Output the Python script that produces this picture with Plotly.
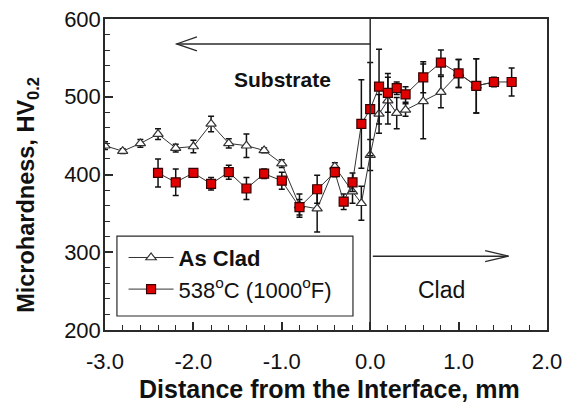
import plotly.graph_objects as go

# As Clad (triangles)
asclad_x = [-3.0, -2.8, -2.6, -2.4, -2.2, -2.0, -1.8, -1.6, -1.4, -1.2, -1.0, -0.8, -0.6, -0.4,
            -0.2, -0.1, 0.0, 0.1, 0.2, 0.3, 0.4, 0.6, 0.8, 1.0, 1.2, 1.4]
asclad_y = [437, 430, 440, 452, 434, 436, 465, 440, 437, 431, 414, 360, 356, 410,
            378, 363, 425, 478, 495, 479, 483, 494, 506, 530, 514, 519]
asclad_err = [5, 3, 5, 7, 5, 8, 10, 6, 15, 3, 5, 15, 30, 5,
              15, 22, 20, 25, 30, 20, 8, 48, 20, 18, 35, 6]

# 538 C (1000 F) (red squares)
ht_x = [-2.4, -2.2, -2.0, -1.8, -1.6, -1.4, -1.2, -1.0, -0.8, -0.6, -0.4, -0.3, -0.2,
        -0.1, 0.0, 0.1, 0.2, 0.3, 0.4, 0.6, 0.8, 1.0, 1.2, 1.4, 1.6]
ht_y = [402, 390, 402, 388, 403, 382, 401, 392, 358, 381, 403, 365, 390,
        465, 484, 513, 505, 511, 503, 525, 544, 530, 514, 519, 519]
ht_err = [18, 17, 4, 8, 9, 14, 6, 11, 10, 18, 6, 10, 12,
          57, 60, 48, 25, 8, 10, 20, 16, 18, 35, 5, 18]

x_tick_vals = [-3, -2, -1, 0, 1, 2]
x_tick_text = ["-3.0", "-2.0", "-1.0", "0.0", "1.0", "2.0"]
y_tick_vals = [200, 300, 400, 500, 600]
y_tick_text = ["200", "300", "400", "500", "600"]

FONT = "Arial, Liberation Sans, sans-serif"
AX = "#2a2a2a"
TXT = "#111111"

fig = go.Figure()
fig.add_trace(go.Scatter(
    x=asclad_x, y=asclad_y, mode="lines+markers", name="<b>As Clad</b>",
    line=dict(color="#333333", width=1),
    marker=dict(symbol="triangle-up", size=9, color="white", line=dict(color="#333333", width=1.2)),
    error_y=dict(type="data", array=asclad_err, color="#111111", thickness=1.5, width=3),
))
fig.add_trace(go.Scatter(
    x=ht_x, y=ht_y, mode="lines+markers", name="538<sup>o</sup>C (1000<sup>o</sup>F)",
    line=dict(color="#333333", width=1),
    marker=dict(symbol="square", size=9, color="#e00000", line=dict(color="#3a0000", width=1.2)),
    error_y=dict(type="data", array=ht_err, color="#111111", thickness=1.5, width=3),
))

shapes = [
    # interface line
    dict(type="line", xref="x", yref="paper", x0=0, x1=0, y0=0, y1=1,
         line=dict(color=AX, width=1.5)),
    # substrate arrow
    dict(type="line", xref="x", yref="y", x0=0, x1=-2.19, y0=568, y1=568,
         line=dict(color=AX, width=1.5)),
    dict(type="path", xref="x", yref="y", path="M -1.96,577 L -2.19,568 L -1.96,559",
         line=dict(color=AX, width=1.2)),
    # clad arrow
    dict(type="line", xref="x", yref="y", x0=0.03, x1=1.565, y0=295, y1=295,
         line=dict(color=AX, width=1.5)),
    dict(type="path", xref="x", yref="y", path="M 1.30,302 L 1.565,295 L 1.30,288",
         line=dict(color=AX, width=1.2)),
    # legend box
    dict(type="rect", xref="paper", yref="paper", x0=0.027, x1=0.561, y0=0.045, y1=0.302,
         line=dict(color=AX, width=1.2), fillcolor="white", layer="below"),
]

annotations = [
    dict(x=-0.99, y=522, xref="x", yref="y", text="<b>Substrate</b>", showarrow=False,
         font=dict(family=FONT, size=21, color=TXT)),
    dict(x=0.81, y=251.5, xref="x", yref="y", text="Clad", showarrow=False,
         font=dict(family=FONT, size=23, color=TXT)),
    # axis titles
    dict(x=0.509, y=-0.189, xref="paper", yref="paper", xanchor="center", yanchor="middle",
         text="<b>Distance from the Interface, mm</b>", showarrow=False,
         font=dict(family=FONT, size=25, color=TXT)),
    dict(x=-0.174, y=0.435, xref="paper", yref="paper", xanchor="center", yanchor="middle",
         text="<b>Microhardness, HV<sub>0.2</sub></b>", showarrow=False, textangle=-90,
         font=dict(family=FONT, size=23.5, color=TXT)),
]

axis_common = dict(
    showline=True, linecolor=AX, linewidth=1.5, mirror=True,
    showgrid=False, zeroline=False, automargin=False,
    ticks="inside", ticklen=8, tickwidth=1.5, tickcolor=AX,
    tickfont=dict(family=FONT, size=22, color=TXT),
)

fig.update_layout(
    width=576, height=410,
    margin=dict(l=105, r=29, t=19, b=80),
    paper_bgcolor="white", plot_bgcolor="white",
    font=dict(family=FONT, color=TXT),
    showlegend=True,
    legend=dict(x=0.042, y=0.30, xanchor="left", yanchor="top",
                bgcolor="rgba(0,0,0,0)", borderwidth=0,
                font=dict(family=FONT, size=22, color=TXT),
                itemwidth=45, tracegroupgap=0),
    shapes=shapes,
    annotations=annotations,
    xaxis=dict(
        range=[-3, 2], tickvals=x_tick_vals, ticktext=x_tick_text,
        minor=dict(dtick=0.2, tick0=-3, ticks="inside", ticklen=5, tickcolor=AX, tickwidth=1.2),
        ticklabelstandoff=11,
        **axis_common,
    ),
    yaxis=dict(
        range=[200, 600], tickvals=y_tick_vals, ticktext=y_tick_text,
        minor=dict(dtick=20, tick0=200, ticks="inside", ticklen=5, tickcolor=AX, tickwidth=1.2),
        ticklabelstandoff=-2,
        **axis_common,
    ),
)

fig.write_html(
    "out.html",
    config={"displayModeBar": False},
    post_script="document.body.style.margin='0';document.body.style.padding='0';",
)
